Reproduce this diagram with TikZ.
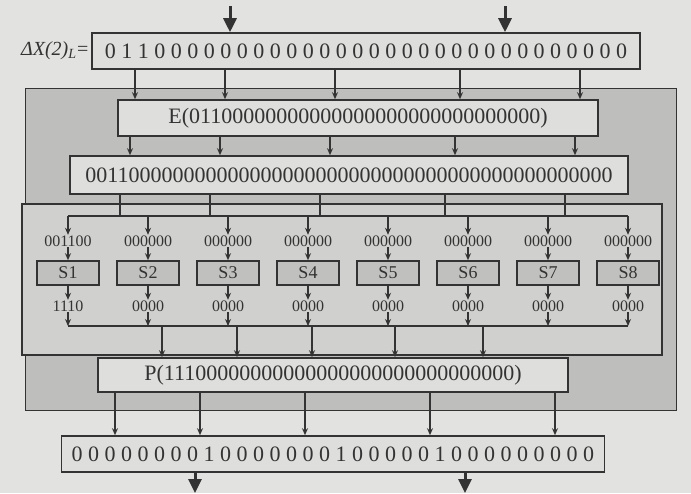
\documentclass[tikz,border=0pt]{standalone}
\usepackage{fontspec}
\setmainfont{Liberation Serif}
\usetikzlibrary{positioning, arrows.meta}
\definecolor{pageGray}{RGB}{226,226,224}
\definecolor{regionGray}{RGB}{190,190,188}
\definecolor{frameGray}{RGB}{208,208,206}
\definecolor{boxGray}{RGB}{222,222,220}
\definecolor{sGray}{RGB}{192,192,190}

\begin{document}
\begin{tikzpicture}[x=0.5pt, y=-0.5pt, color=black!80, line width=0.8pt,
	bitbox/.style={draw, fill=boxGray, inner sep=0pt, minimum height=18pt, font=\fontsize{11}{13}\selectfont},
	sbox/.style={draw, fill=sGray, inner sep=0pt, minimum width=31pt, minimum height=12pt, font=\fontsize{9}{10}\selectfont},
	bits/.style={inner sep=0pt, font=\fontsize{8}{9}\selectfont},
	arrow/.style={-{Stealth[length=3.5pt, width=3pt]}, line width=0.7pt},
	bigarrow/.style={-{Triangle[length=7pt, width=6.5pt]}, line width=1.5pt}]
	\path[use as bounding box, fill=pageGray] (0,0) rectangle (691,493);
	% shaded round function and S-box frame
	\filldraw[fill=regionGray, line width=0.5pt] (25,88) rectangle (676,410);
	\filldraw[fill=frameGray] (22,204) rectangle (662,355);
	\node[bitbox, minimum width=274pt] (in) at (366,51) {0 1 1 0 0 0 0 0 0 0 0 0 0 0 0 0 0 0 0 0 0 0 0 0 0 0 0 0 0 0 0 0};
	\node[left=1pt of in, inner sep=0pt, font=\fontsize{10}{12}\selectfont] (dx) {\textit{ΔX(2)}\textsubscript{\textit{L}}=};
	\node[bitbox, minimum width=240pt] (E) at (358,118) {E(01100000000000000000000000000000)};
	\node[bitbox, minimum width=279pt, minimum height=19pt] (exp) at (349,175) {001100000000000000000000000000000000000000000000};
	\node[bitbox, minimum width=235pt, minimum height=17pt] (P) at (333,375) {P(11100000000000000000000000000000)};
	\node[bitbox, minimum width=271.5pt] (out) at (333,454) {0 0 0 0 0 0 0 0 1 0 0 0 0 0 0 0 1 0 0 0 0 0 1 0 0 0 0 0 0 0 0 0};
	\coordinate (t1) at (230,6);
	\coordinate (t2) at (505,6);
	\coordinate (b1) at (195,493);
	\coordinate (b2) at (465,493);
	\coordinate (bus1) at (0,216);
	\coordinate (bus2) at (0,326);
	% S-boxes
	\foreach \i/\inbits/\outbits in {1/001100/1110, 2/000000/0000, 3/000000/0000, 4/000000/0000,
		5/000000/0000, 6/000000/0000, 7/000000/0000, 8/000000/0000} {
		\node[sbox] (s\i) at ({80*\i-12},273) {S\i};
		\node[bits, above=6.5pt of s\i] (si\i) {\inbits};
		\node[bits, below=7pt of s\i] (so\i) {\outbits};
		\draw[arrow] (si\i) -- (s\i);
		\draw[arrow] (s\i) -- (so\i);
		\draw[arrow] (s\i |- bus1) -- (si\i);
		\draw[arrow] (so\i) -- (s\i |- bus2);
	}
	\draw (s1 |- bus1) -- (s8 |- bus1);
	\draw (s1 |- bus2) -- (s8 |- bus2);
	% connectors
	\draw[bigarrow] (t1) -- (in.north -| t1);
	\draw[bigarrow] (t2) -- (in.north -| t2);
	\foreach \x in {135,225,335,460,580}
		\draw[arrow] (in.south -| \x,0) -- (E.north -| \x,0);
	\foreach \x in {130,220,330,455,575}
		\draw[arrow] (E.south -| \x,0) -- (exp.north -| \x,0);
	\foreach \x in {120,210,320,445,565}
		\draw (exp.south -| \x,0) -- (bus1 -| \x,0);
	\foreach \x in {162,237,312,395,483}
		\draw[arrow] (bus2 -| \x,0) -- (P.north -| \x,0);
	\foreach \x in {115,200,305,430,555}
		\draw[arrow] (P.south -| \x,0) -- (out.north -| \x,0);
	\draw[bigarrow] (out.south -| b1) -- (b1);
	\draw[bigarrow] (out.south -| b2) -- (b2);
\end{tikzpicture}
\end{document}
